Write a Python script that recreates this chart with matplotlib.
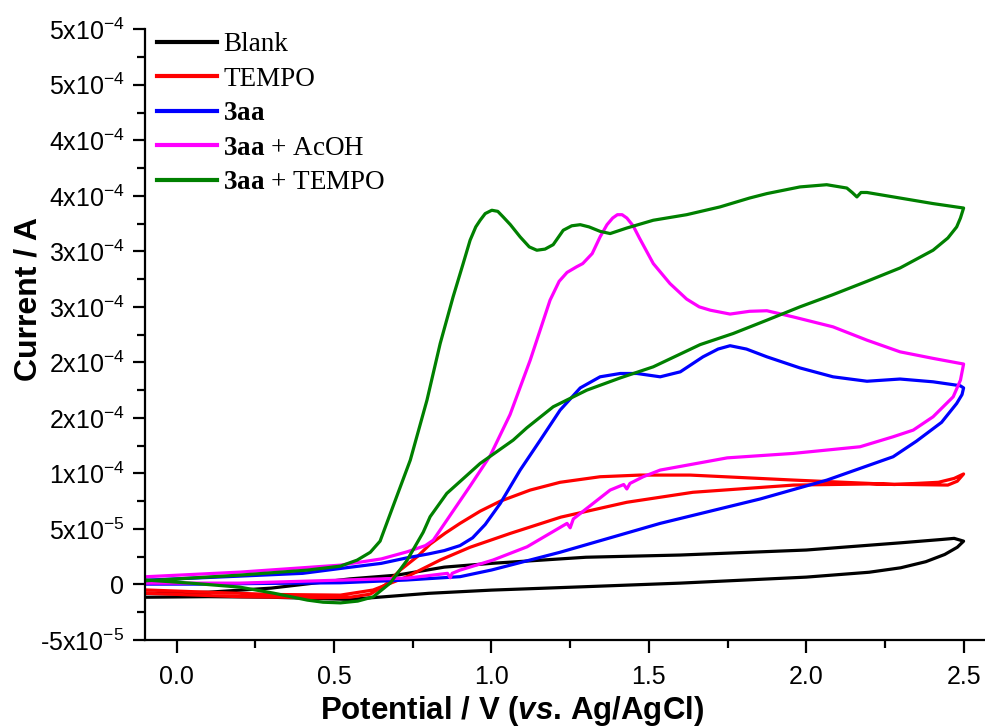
import matplotlib
matplotlib.use("Agg")
import matplotlib.pyplot as plt
import numpy as np

plt.rcParams['font.family'] = ['Liberation Sans', 'DejaVu Sans']
plt.rcParams['mathtext.fontset'] = 'custom'
plt.rcParams['mathtext.rm'] = 'Liberation Sans'
plt.rcParams['mathtext.it'] = 'Liberation Sans:italic:bold'
plt.rcParams['mathtext.bf'] = 'Liberation Serif:bold'

# current values in units of 1e-5 A
UNIT = 1e-5

# Blank
blank_fwd_v = [-0.094, 0.1, 0.3, 0.55, 0.8, 1.0, 1.3, 1.6, 2.0, 2.2, 2.3, 2.38, 2.44, 2.48, 2.5]
blank_fwd_i = [-1.15, -1.1, -1.15, -1.35, -0.8, -0.51, -0.2, 0.12, 0.66, 1.1, 1.5, 2.05, 2.7, 3.35, 3.9]
blank_rev_v = [2.5, 2.47, 2.43, 2.3, 2.0, 1.6, 1.3, 1.0, 0.85, 0.7, 0.55, 0.3, 0.1, -0.094]
blank_rev_i = [3.9, 4.15, 4.05, 3.75, 3.1, 2.65, 2.45, 1.9, 1.56, 0.84, 0.5, -0.33, -0.7, -0.8]

# TEMPO
tempo_fwd_v = [-0.094, 0.2, 0.45, 0.551, 0.615, 0.662, 0.71, 0.766, 0.805, 0.853, 0.9, 0.964, 1.028,
               1.123, 1.218, 1.345, 1.472, 1.631, 1.96, 2.28, 2.42, 2.47, 2.5]
tempo_fwd_i = [-0.8, -1.1, -1.2, -1.15, -0.87, -0.06, 1.29, 2.55, 3.63, 4.62, 5.5, 6.6, 7.5,
               8.5, 9.2, 9.7, 9.85, 9.85, 9.4, 9.0, 9.2, 9.55, 9.95]
tempo_rev_v = [2.5, 2.48, 2.45, 2.2, 1.96, 1.64, 1.43, 1.22, 1.06, 0.932, 0.837, 0.73, 0.624, 0.52,
               0.3, 0.1, -0.094]
tempo_rev_i = [9.95, 9.3, 8.95, 9.05, 8.95, 8.3, 7.4, 6.06, 4.6, 3.35, 2.2, 0.68, -0.5, -0.96,
               -0.9, -0.7, -0.5]

# 3aa
aa_fwd_v = [-0.094, 0.2, 0.4, 0.52, 0.65, 0.732, 0.8, 0.85, 0.9, 0.94, 0.98, 1.028, 1.091, 1.155,
            1.218, 1.282, 1.345, 1.409, 1.462, 1.536, 1.6, 1.672, 1.72, 1.758, 1.81, 1.875, 1.98,
            2.085, 2.193, 2.298, 2.403, 2.489, 2.5]
aa_fwd_i = [0.39, 0.75, 1.0, 1.44, 1.9, 2.4, 2.75, 3.05, 3.5, 4.2, 5.4, 7.3, 10.3, 13.0,
            15.7, 17.7, 18.7, 19.0, 19.0, 18.7, 19.15, 20.5, 21.2, 21.5, 21.2, 20.5, 19.5,
            18.7, 18.3, 18.5, 18.25, 17.9, 17.7]
aa_rev_v = [2.5, 2.495, 2.478, 2.43, 2.35, 2.276, 2.066, 1.854, 1.536, 1.218, 1.0, 0.9, 0.73,
            0.52, 0.31, 0.075, -0.094]
aa_rev_i = [17.7, 17.1, 16.3, 14.6, 12.9, 11.5, 9.4, 7.7, 5.5, 2.9, 1.3, 0.7, 0.4,
            0.15, 0.1, 0.03, 0.03]

# 3aa + AcOH
acoh_fwd_v = [-0.094, 0.2, 0.52, 0.65, 0.732, 0.79, 0.815, 0.869, 0.932, 0.996, 1.059, 1.123,
              1.186, 1.215, 1.24, 1.27, 1.29, 1.32, 1.345, 1.367, 1.385, 1.4, 1.415, 1.43, 1.45,
              1.47, 1.514, 1.567, 1.62, 1.66, 1.695, 1.758, 1.82, 1.875, 1.958, 2.085, 2.193,
              2.298, 2.403, 2.5]
acoh_fwd_i = [0.70, 1.11, 1.74, 2.3, 2.94, 3.5, 3.99, 6.24, 8.86, 11.6, 15.3, 20.2,
              25.6, 27.3, 28.1, 28.6, 28.9, 29.8, 31.3, 32.4, 33.0, 33.3, 33.3, 33.0, 32.3,
              31.2, 28.9, 27.1, 25.7, 25.0, 24.7, 24.35, 24.6, 24.65, 24.1, 23.2, 22.0,
              20.95, 20.36, 19.85]
acoh_rev_v = [2.5, 2.49, 2.467, 2.403, 2.34, 2.276, 2.171, 1.958, 1.749, 1.536, 1.482, 1.44,
              1.43, 1.42, 1.377, 1.26, 1.25, 1.24, 1.113, 1.005, 0.9, 0.875, 0.869, 0.86, 0.732,
              0.52, 0.2, -0.094]
acoh_rev_i = [19.85, 18.4, 16.9, 15.1, 13.9, 13.3, 12.4, 11.8, 11.4, 10.3, 9.7, 9.1,
              8.6, 9.0, 8.5, 5.9, 5.1, 5.5, 3.39, 2.2, 1.29, 1.0, 0.6, 1.0, 0.57,
              0.39, 0.12, 0.12]

# 3aa + TEMPO
at_fwd_v = [-0.094, 0.2, 0.415, 0.52, 0.573, 0.615, 0.646, 0.688, 0.742, 0.795, 0.837, 0.878,
            0.91, 0.932, 0.95, 0.964, 0.98, 1.001, 1.02, 1.037, 1.06, 1.091, 1.12, 1.144, 1.17,
            1.196, 1.228, 1.255, 1.282, 1.31, 1.345, 1.377, 1.43, 1.514, 1.62, 1.726, 1.82,
            1.875, 1.98, 2.065, 2.129, 2.146, 2.161, 2.174, 2.193, 2.298, 2.403, 2.5]
at_fwd_i = [0.34, 0.84, 1.29, 1.65, 2.19, 2.9, 3.9, 7.1, 11.2, 16.6, 21.7, 25.9,
            28.9, 31.0, 32.2, 32.8, 33.4, 33.7, 33.6, 33.1, 32.4, 31.3, 30.4, 30.1, 30.2,
            30.6, 31.9, 32.3, 32.4, 32.2, 31.8, 31.6, 32.1, 32.8, 33.3, 34.0, 34.8,
            35.2, 35.8, 36.0, 35.7, 35.3, 34.9, 35.3, 35.3, 34.8, 34.3, 33.9]
at_rev_v = [2.5, 2.49, 2.478, 2.45, 2.403, 2.298, 2.193, 2.085, 1.98, 1.875, 1.768, 1.663, 1.514,
            1.409, 1.303, 1.196, 1.112, 1.069, 0.964, 0.858, 0.805, 0.783, 0.732, 0.678, 0.624,
            0.575, 0.52, 0.465, 0.415, 0.307, 0.2, 0.043, -0.094]
at_rev_i = [33.9, 33.0, 32.2, 31.2, 30.1, 28.5, 27.3, 26.1, 25.0, 23.8, 22.6, 21.6, 19.6,
            18.6, 17.5, 16.0, 14.1, 13.0, 10.9, 8.2, 6.1, 4.7, 2.19, 0.12, -1.12,
            -1.5, -1.66, -1.6, -1.41, -0.78, -0.24, 0.12, 0.39]

series = [
    ("Blank", "#000000", blank_fwd_v, blank_fwd_i, blank_rev_v, blank_rev_i),
    ("TEMPO", "#FF0000", tempo_fwd_v, tempo_fwd_i, tempo_rev_v, tempo_rev_i),
    (r"$\mathbf{3aa}$", "#0000FF", aa_fwd_v, aa_fwd_i, aa_rev_v, aa_rev_i),
    (r"$\mathbf{3aa}$ + AcOH", "#FF00FF", acoh_fwd_v, acoh_fwd_i, acoh_rev_v, acoh_rev_i),
    (r"$\mathbf{3aa}$ + TEMPO", "#008000", at_fwd_v, at_fwd_i, at_rev_v, at_rev_i),
]

ytick_vals = [-5e-5, 0, 5e-5, 1e-4, 1.5e-4, 2e-4, 2.5e-4, 3e-4, 3.5e-4, 4e-4, 4.5e-4, 5e-4]
ytick_labels = ["-5x10$^{-5}$", "0", "5x10$^{-5}$", "1x10$^{-4}$", "2x10$^{-4}$", "2x10$^{-4}$",
                "3x10$^{-4}$", "3x10$^{-4}$", "4x10$^{-4}$", "4x10$^{-4}$", "5x10$^{-4}$", "5x10$^{-4}$"]
xtick_vals = [0.0, 0.5, 1.0, 1.5, 2.0, 2.5]
xtick_labels = ["0.0", "0.5", "1.0", "1.5", "2.0", "2.5"]

fig = plt.figure(figsize=(9.85, 7.26), dpi=100)
ax = fig.add_axes([0.1475, 0.1185, 0.8525, 0.8412])

for label, color, fv, fi, rv, ri in series:
    v = np.concatenate([fv, rv])
    i = np.concatenate([fi, ri]) * UNIT
    ax.plot(v, i, color=color, lw=2.3, label=label, solid_joinstyle='round')

ax.set_xlim(-0.1, 2.568)
ax.set_ylim(-5e-5, 5e-4)

ax.spines['top'].set_visible(False)
ax.spines['right'].set_visible(False)
for s in ('left', 'bottom'):
    ax.spines[s].set_linewidth(1.6)

ax.set_xticks(xtick_vals, xtick_labels)
ax.set_xticks(np.arange(-0.0, 2.51, 0.25), minor=True)
ax.set_yticks(ytick_vals, ytick_labels)
ax.set_yticks(np.arange(-5e-5, 5.01e-4, 2.5e-5), minor=True)
ax.tick_params(which='major', direction='out', length=9, width=1.6, labelsize=18, pad=6)
ax.tick_params(axis='x', which='major', pad=9)
ax.tick_params(which='minor', direction='out', length=5.5, width=1.6)

ax.set_xlabel(r"Potential / V ($\mathit{vs}$. Ag/AgCl)", fontsize=22.5, fontweight='bold')
ax.set_ylabel("Current / A", fontsize=23, fontweight='bold')
ax.xaxis.set_label_coords(0.437, -0.088)
ax.yaxis.set_label_coords(-0.121, 0.558)

leg = ax.legend(loc='upper left', bbox_to_anchor=(0.014, 0.995), frameon=False,
                prop={'family': 'Liberation Serif', 'size': 19.5}, handlelength=2.2,
                handletextpad=0.25, labelspacing=0.35, borderpad=0, borderaxespad=0)
for ln in leg.get_lines():
    ln.set_linewidth(3)

fig.savefig("out.png", dpi=100)
